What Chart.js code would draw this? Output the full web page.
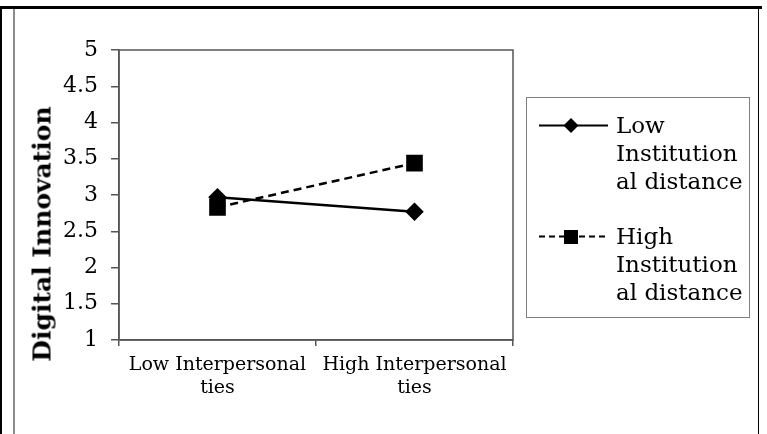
<!DOCTYPE html>
<html>
<head>
<meta charset="utf-8">
<script src="https://cdn.jsdelivr.net/npm/chart.js@4.4.1/dist/chart.umd.min.js"></script>
<style>
  html, body { margin: 0; padding: 0; background: #fff; }
  #wrap { position: relative; width: 767px; height: 434px; overflow: hidden; font-family: "DejaVu Serif", serif; }
  #chart { position: absolute; left: 0; top: 0; }
  .line { position: absolute; }
  #ytitle {
    position: absolute; left: 42px; top: 234px;
    transform: translate(-50%, -50%) rotate(-90deg);
    font-weight: bold; font-size: 25px; white-space: nowrap; color: #000;
  }
  #legend {
    position: absolute; left: 526px; top: 97px; width: 224px; height: 221px;
    border: 1px solid #7f7f7f; box-sizing: border-box;
  }
  .entry { position: absolute; left: 10px; }
  .entry svg { position: absolute; left: 0; top: 0; }
  .entry .txt { position: absolute; left: 79px; top: 0; font-size: 23px; line-height: 28px; color: #000; white-space: nowrap; }
</style>
</head>
<body>
<div id="wrap">
  <canvas id="chart" width="767" height="434"></canvas>
  <div class="line" style="left:0;top:6px;width:762px;height:3px;background:#000"></div>
  <div class="line" style="left:0;top:6px;width:2px;height:428px;background:#000"></div>
  <div class="line" style="left:13px;top:9px;width:2px;height:425px;background:#8c8c8c"></div>
  <div class="line" style="left:758px;top:6px;width:1px;height:428px;background:#000"></div>
  <div id="ytitle">Digital Innovation</div>
  <div id="legend"></div>
</div>
<script>
document.addEventListener('DOMContentLoaded', function () {
    const categories = [['Low Interpersonal', 'ties'], ['High Interpersonal', 'ties']];
    const lowInstitutional = [2.97, 2.77];
    const highInstitutional = [2.83, 3.44];
    const yTicks = ['1', '1.5', '2', '2.5', '3', '3.5', '4', '4.5', '5'];
    const seriesNames = [['Low', 'Institution', 'al distance'], ['High', 'Institution', 'al distance']];

    // box round the plot area (top and right sides)
    const plotBox = {
        id: 'plotBox',
        afterDraw(chart) {
            const a = chart.chartArea;
            const c = chart.ctx;
            c.save();
            c.strokeStyle = '#555';
            c.lineWidth = 1.5;
            c.strokeRect(a.left, a.top, a.right - a.left, a.bottom - a.top);
            c.restore();
        }
    };

    const ctx = document.getElementById('chart').getContext('2d');
    new Chart(ctx, {
        type: 'line',
        data: {
            labels: categories,
            datasets: [{
                label: seriesNames[0].join(' '),
                data: lowInstitutional,
                borderColor: '#000',
                backgroundColor: '#000',
                borderWidth: 2.5,
                pointStyle: 'rectRot',
                pointRadius: 7.5,
                pointHoverRadius: 7.5
            }, {
                label: seriesNames[1].join(' '),
                data: highInstitutional,
                borderColor: '#000',
                backgroundColor: '#000',
                borderWidth: 2.5,
                borderDash: [8, 5],
                pointStyle: 'rect',
                pointRadius: 10,
                pointHoverRadius: 10
            }]
        },
        options: {
            responsive: false,
            animation: false,
            layout: { padding: { top: 50, right: 254, left: 0, bottom: 0 } },
            plugins: { legend: { display: false }, tooltip: { enabled: false } },
            scales: {
                x: {
                    offset: true,
                    afterFit(scale) { scale.height = 94; },
                    grid: { offset: true, drawOnChartArea: false, tickLength: 6, color: '#555', lineWidth: 1.5 },
                    border: { color: '#555', width: 1.5 },
                    ticks: { color: '#000', padding: 8, font: { family: 'DejaVu Serif', size: 19 }, maxRotation: 0 }
                },
                y: {
                    min: 1,
                    max: 5,
                    afterFit(scale) { scale.width = 119; },
                    grid: { drawOnChartArea: false, tickLength: 8, color: '#555', lineWidth: 1.5 },
                    border: { color: '#555', width: 1.5 },
                    ticks: {
                        stepSize: 0.5,
                        color: '#000',
                        padding: 13,
                        font: { family: 'DejaVu Serif', size: 22 },
                        callback: function (value, index) { return yTicks[index]; }
                    }
                }
            }
        },
        plugins: [plotBox]
    });

    // legend with wrapped text
    const legend = document.getElementById('legend');
    const entryTops = [13, 124];
    seriesNames.forEach(function (lines, i) {
        const e = document.createElement('div');
        e.className = 'entry';
        e.style.top = entryTops[i] + 'px';
        const dash = i === 1 ? ' stroke-dasharray="6 4"' : '';
        const marker = i === 0
            ? '<polygon points="34,7 41.5,14.5 34,22 26.5,14.5" fill="#000"/>'
            : '<rect x="27" y="8" width="14" height="14" fill="#000"/>';
        e.innerHTML = '<svg width="72" height="30"><line x1="2" y1="14.5" x2="71" y2="14.5" stroke="#000" stroke-width="2.2"' + dash + '/>' + marker + '</svg>' +
            '<div class="txt">' + lines.join('<br>') + '</div>';
        legend.appendChild(e);
    });
});
</script>
</body>
</html>
